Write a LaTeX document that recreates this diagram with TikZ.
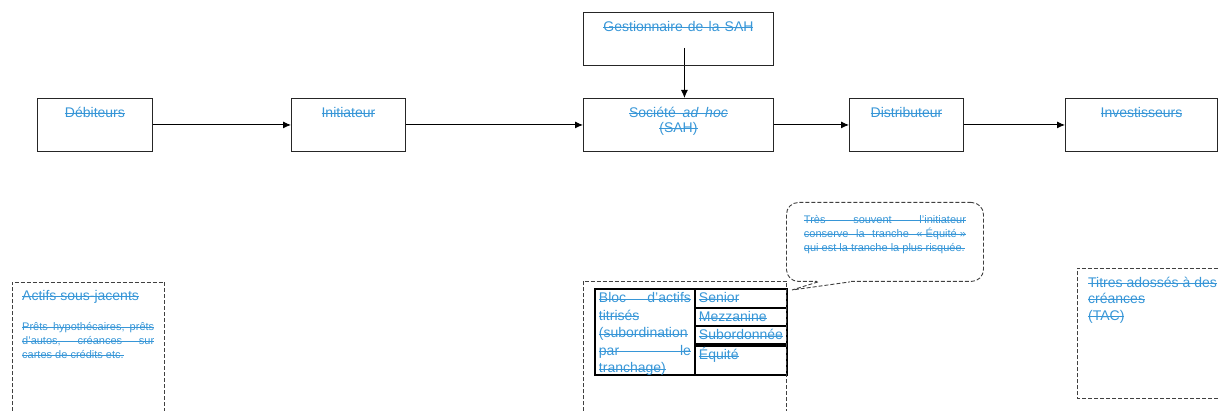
\documentclass[tikz,border=0pt]{standalone}
\usepackage{fontspec}
\setmainfont{Liberation Sans}
\usetikzlibrary{arrows.meta}
\pgfdeclarelayer{edgelayer}
\pgfdeclarelayer{nodelayer}
\pgfsetlayers{edgelayer,nodelayer,main}
\definecolor{deleted}{RGB}{55,150,215}
\tolerance=9999
% texte barre (mot par mot, espaces compris)
\newcommand\barre[1]{\setbox0\hbox{#1}\rlap{\vrule height \dimexpr0.27em+0.5pt\relax depth \dimexpr-0.27em+0.5pt\relax width \wd0}\box0}
\newcommand\gap{\leaders\hrule height \dimexpr0.27em+0.5pt\relax depth \dimexpr-0.27em+0.5pt\relax\hskip\fontdimen2\font plus\fontdimen3\font minus\fontdimen4\font\relax}
\makeatletter
\def\barrer#1{\leavevmode\barrer@a#1 \@@end}
\def\barrer@a#1 #2\@@end{\barre{#1}\ifx\relax#2\relax\else\gap\barrer@a#2\@@end\fi}
\makeatother
\tikzstyle{party}=[draw=black!85,line width=0.9pt,anchor=north west,inner xsep=2pt,inner ysep=5pt,text height=14pt,text depth=29pt,align=center,text=deleted,font=\fontsize{14}{15}\selectfont]
\tikzstyle{flow}=[-{Latex[length=8pt,width=7pt]},draw=black,line width=0.9pt]
\tikzstyle{zone}=[draw=black!75,line width=0.9pt,dash pattern=on 4pt off 2pt]
\tikzstyle{panel}=[anchor=north west,inner ysep=4pt,text=deleted,align=justify,font=\fontsize{14}{16.5}\selectfont]
\tikzstyle{tranche}=[draw=black,line width=1.9pt,anchor=north west,inner xsep=4pt,inner ysep=0pt,text height=14pt,text width=84pt,align=left,text=deleted,font=\fontsize{14}{17.5}\selectfont]

\begin{document}
\begin{tikzpicture}[x=1pt,y=-1pt]
	\useasboundingbox (0,0) rectangle (1218,411);
	\begin{pgfonlayer}{nodelayer}
		\node [style=party, text width=111pt] (0) at (37, 98) {\barrer{Débiteurs}};
		\node [style=party, text width=110pt] (1) at (291, 98) {\barrer{Initiateur}};
		\node [style=party, text width=186pt] (2) at (583, 98) {\barrer{Société {\itshape ad} {\itshape hoc}}\\\barrer{(SAH)}};
		\node [style=party, text width=186pt] (3) at (583, 12) {\barrer{Gestionnaire de la SAH}};
		\node [style=party, text width=110pt] (4) at (849, 98) {\barrer{Distributeur}};
		\node [style=party, text width=148pt] (5) at (1065, 98) {\barrer{Investisseurs}};
		% actifs
		\node [style=panel, inner xsep=10pt, text width=132pt, text height=14pt, text depth=107pt] (6) at (12, 282) {\barrer{Actifs sous-jacents}\par\vspace{16pt}{\fontsize{11}{14}\selectfont\barrer{Prêts hypothécaires, prêts d’autos, créances sur cartes de crédits etc.}\par}};
		\node [anchor=north west, inner sep=0pt, minimum width=203pt, minimum height=130pt] (7) at (583, 281) {};
		% tranches
		\node [style=tranche, text width=92pt, align=justify, text depth=72pt] (8) at (594, 288) {\barrer{Bloc d’actifs titrisés (subordination par le tranchage)}};
		\node [style=tranche, text depth=5pt] (9) at (694, 288) {\barrer{Senior}};
		\node [style=tranche, text depth=4pt] (10) at (694, 307) {\barrer{Mezzanine}};
		\node [style=tranche, text depth=4pt] (11) at (694, 325) {\barrer{Subordonnée}};
		\node [style=tranche, text depth=15pt] (12) at (694, 345) {\barrer{Équité}};
		% bulle
		\node [style=zone, style=panel, rounded corners=12pt, minimum width=197pt, inner xsep=14.5pt, text width=162pt, text height=17pt, text depth=54pt, font=\fontsize{11}{14}\selectfont] (13) at (786, 202) {\barrer{Très souvent l’initiateur}\linebreak\barrer{conserve la tranche «~Équité~»}\linebreak\barrer{qui est la tranche la plus risquée.}};
		\coordinate (14) at (792, 290);
		\node [style=panel, align=left, inner xsep=11pt, text width=138pt, text height=15pt, text depth=107pt] (15) at (1077, 268) {\barrer{Titres adossés à des}\\\barrer{créances}\\\barrer{(TAC)}};
		\coordinate (16) at (1218, 0);
	\end{pgfonlayer}
	\begin{pgfonlayer}{edgelayer}
		\draw [style=flow] (0) -- (1);
		\draw [style=flow] (1) -- (2);
		\draw [style=flow] (2) -- (4);
		\draw [style=flow] (4) -- (5);
		\draw [style=flow] ([xshift=6pt,yshift=-9pt]3.center) -- ([xshift=6pt]2.north);
	\end{pgfonlayer}
	\draw [style=zone] (6.south west) -- (6.north west) -- (6.north east) -- (6.south east);
	\draw [style=zone] (7.south west) -- (7.north west) -- (7.north east) -- (7.south east);
	\draw [style=zone] (15.south west -| 16) -- (15.south west) -- (15.north west) -- (15.north west -| 16);
	\fill [white] ([xshift=31pt,yshift=1.5pt]13.south west) rectangle ([xshift=65pt,yshift=-1.5pt]13.south west);
	\draw [style=zone] ([xshift=32pt]13.south west) -- (14) -- ([xshift=64pt]13.south west);
\end{tikzpicture}
\end{document}
